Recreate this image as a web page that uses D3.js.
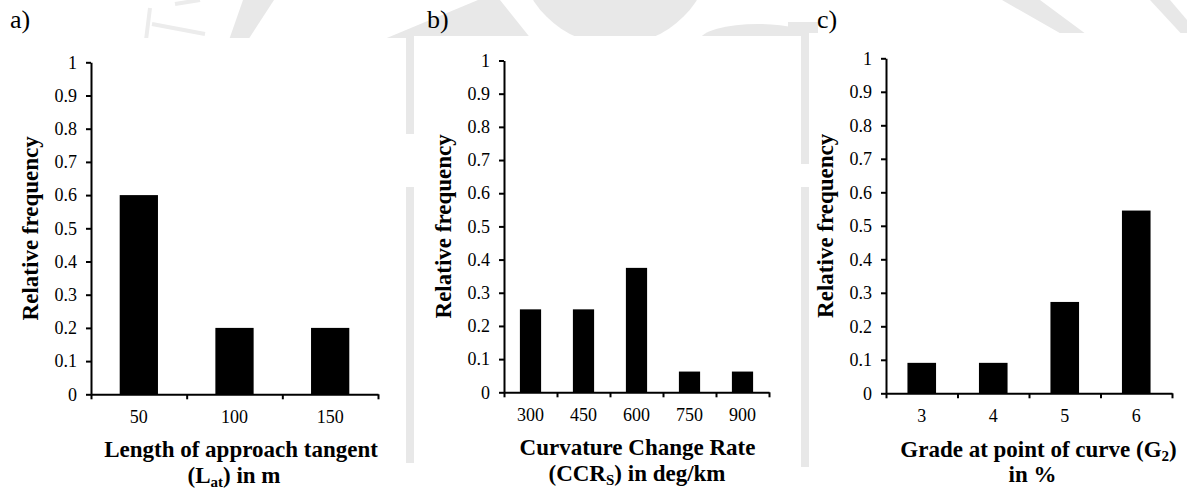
<!DOCTYPE html>
<html>
<head>
<meta charset="utf-8">
<script src="https://cdn.jsdelivr.net/npm/d3@7"></script>
<style>
  html, body { margin: 0; padding: 0; background: #ffffff; }
  svg { display: block; }
  text { font-family: "Liberation Serif", "Times New Roman", serif; fill: #000; }
</style>
</head>
<body>
<script>
// ---- data ----
const panelLetters = ["a)", "b)", "c)"];

const approachLengths = ["50", "100", "150"];
const approachFreq = [0.6, 0.2, 0.2];

const ccrClasses = ["300", "450", "600", "750", "900"];
const ccrFreq = [0.25, 0.25, 0.375, 0.0625, 0.0625];

const gradeClasses = ["3", "4", "5", "6"];
const gradeFreq = [0.0909, 0.0909, 0.2727, 0.5455];

const yTickValues = [0, 0.1, 0.2, 0.3, 0.4, 0.5, 0.6, 0.7, 0.8, 0.9, 1];
const yTitle = "Relative frequency";

// axis titles: each line is a list of [text, isSubscript] runs
const approachTitle = [
  [["Length of approach tangent", false]],
  [["(L", false], ["at", true], [") in m", false]]
];
const ccrTitle = [
  [["Curvature Change Rate", false]],
  [["(CCR", false], ["S", true], [") in deg/km", false]]
];
const gradeTitle = [
  [["Grade at point of curve (G", false], ["2", true], [")", false]],
  [["in %", false]]
];

// ---- layout ----
const W = 1187, H = 488;
const svg = d3.select("body").append("svg").attr("width", W).attr("height", H);

svg.append("rect").attr("width", W).attr("height", H).attr("fill", "#fff");

// faint background emblem showing around the chart frames
const WM = "#e8e8e8";
const wm = svg.append("g").attr("fill", WM).attr("stroke", "none");
wm.append("path").attr("d", "M243,0 L274,0 L248,40 L229,40 Z");
wm.append("path").attr("d", "M478,0 L500,0 L532,40 L382,40 Z");
wm.append("circle").attr("cx", 615).attr("cy", -52).attr("r", 97);
wm.append("ellipse").attr("cx", 758).attr("cy", 40).attr("rx", 58).attr("ry", 16);
wm.append("path").attr("d", "M1002,0 L1040,0 L1094,40 L1072,40 Z");
wm.append("path").attr("d", "M1150,0 L1170,0 L1187,20 L1187,40 Z");
wm.append("path").attr("d", "M788,22 L818,22 L818,40 L788,40 Z");
wm.append("rect").attr("x", 406).attr("y", 30).attr("width", 8).attr("height", 104);
wm.append("rect").attr("x", 406).attr("y", 187).attr("width", 8).attr("height", 276);
wm.append("rect").attr("x", 801).attr("y", 30).attr("width", 8).attr("height", 134);
wm.append("rect").attr("x", 801).attr("y", 187).attr("width", 8).attr("height", 280);
const wmLines = svg.append("g").attr("stroke", "#ececec").attr("stroke-width", 4).attr("fill", "none");
wmLines.append("path").attr("d", "M150,8 L146,40");
wmLines.append("path").attr("d", "M152,24 L205,34");
wmLines.append("path").attr("d", "M175,4 L200,0");

// white chart frames
const frames = [
  { x: 0, y: 38, w: 406, h: H - 38 },
  { x: 414, y: 36, w: 387, h: H - 36 },
  { x: 809, y: 33, w: W - 809, h: H - 33 }
];
svg.append("g").selectAll("rect").data(frames).join("rect")
  .attr("x", d => d.x).attr("y", d => d.y).attr("width", d => d.w).attr("height", d => d.h)
  .attr("fill", "#fff");

const panels = [
  { letterX: 10, x0: 91, x1: 378, yTop: 62.3, yBot: 394.3, yTitleX: 37.5,
    titleX: [241, 234], titleY: [457, 482.5], cats: approachLengths, vals: approachFreq, title: approachTitle },
  { letterX: 427, x0: 504, x1: 769, yTop: 60.5, yBot: 392.3, yTitleX: 450.5,
    titleX: [637.5, 637], titleY: [455, 480.5], cats: ccrClasses, vals: ccrFreq, title: ccrTitle },
  { letterX: 817, x0: 886, x1: 1172, yTop: 58.3, yBot: 393.3, yTitleX: 833,
    titleX: [1038.5, 1032.5], titleY: [456.5, 481.5], cats: gradeClasses, vals: gradeFreq, title: gradeTitle }
];

const TICK_FONT = 18, TITLE_FONT = 23, SUB_FONT = 15, LETTER_FONT = 26, SUB_SHIFT = 4;

panels.forEach((p, i) => {
  const g = svg.append("g");

  // panel letter
  svg.append("text").attr("x", p.letterX).attr("y", 28)
    .style("font-size", LETTER_FONT + "px").text(panelLetters[i]);

  const x = d3.scaleBand().domain(p.cats).range([p.x0, p.x1])
    .paddingInner(0.6).paddingOuter(0.3);
  const xEdge = d3.scaleLinear().domain([0, p.cats.length]).range([p.x0, p.x1]);
  const y = d3.scaleLinear().domain([0, 1]).range([p.yBot, p.yTop]);

  // bars
  g.append("g").selectAll("rect")
    .data(p.cats.map((c, k) => ({ c, v: p.vals[k] })))
    .join("rect")
    .attr("x", d => x(d.c))
    .attr("y", d => y(d.v))
    .attr("width", x.bandwidth())
    .attr("height", d => y(0) - y(d.v))
    .attr("fill", "#000");

  // y axis
  const ya = g.append("g").attr("transform", `translate(${p.x0},0)`)
    .call(d3.axisLeft(y).tickValues(yTickValues).tickSize(5).tickSizeOuter(0)
      .tickPadding(9).tickFormat(d => String(+d.toFixed(1))));
  ya.attr("font-family", null);
  ya.selectAll("path, line").attr("stroke", "#000").attr("stroke-width", 2);
  ya.selectAll("text").style("font-size", TICK_FONT + "px");

  // x axis: line with ticks at category boundaries
  const xe = g.append("g").attr("transform", `translate(0,${p.yBot})`)
    .call(d3.axisBottom(xEdge).tickValues(d3.range(p.cats.length + 1))
      .tickSize(5).tickSizeOuter(0).tickFormat(""));
  xe.selectAll("path, line").attr("stroke", "#000").attr("stroke-width", 2);

  // x category labels centred under bars
  const xl = g.append("g").attr("transform", `translate(0,${p.yBot})`)
    .call(d3.axisBottom(x).tickSize(0).tickPadding(15.7));
  xl.attr("font-family", null);
  xl.select(".domain").remove();
  xl.selectAll("text").style("font-size", TICK_FONT + "px");

  // y title
  g.append("text")
    .attr("transform", `translate(${p.yTitleX},${(p.yTop + p.yBot) / 2}) rotate(-90)`)
    .attr("text-anchor", "middle")
    .style("font-size", TITLE_FONT + "px").style("font-weight", "bold")
    .text(yTitle);

  // x title (two lines, with subscripts)
  p.title.forEach((runs, li) => {
    const t = g.append("text")
      .attr("x", p.titleX[li]).attr("y", p.titleY[li])
      .attr("text-anchor", "middle")
      .style("font-size", TITLE_FONT + "px").style("font-weight", "bold");
    let shifted = false;
    runs.forEach(([s, sub]) => {
      const ts = t.append("tspan").text(s);
      if (sub && !shifted) { ts.attr("dy", SUB_SHIFT).style("font-size", SUB_FONT + "px"); shifted = true; }
      else if (!sub && shifted) { ts.attr("dy", -SUB_SHIFT); shifted = false; }
    });
  });
});
</script>
</body>
</html>
